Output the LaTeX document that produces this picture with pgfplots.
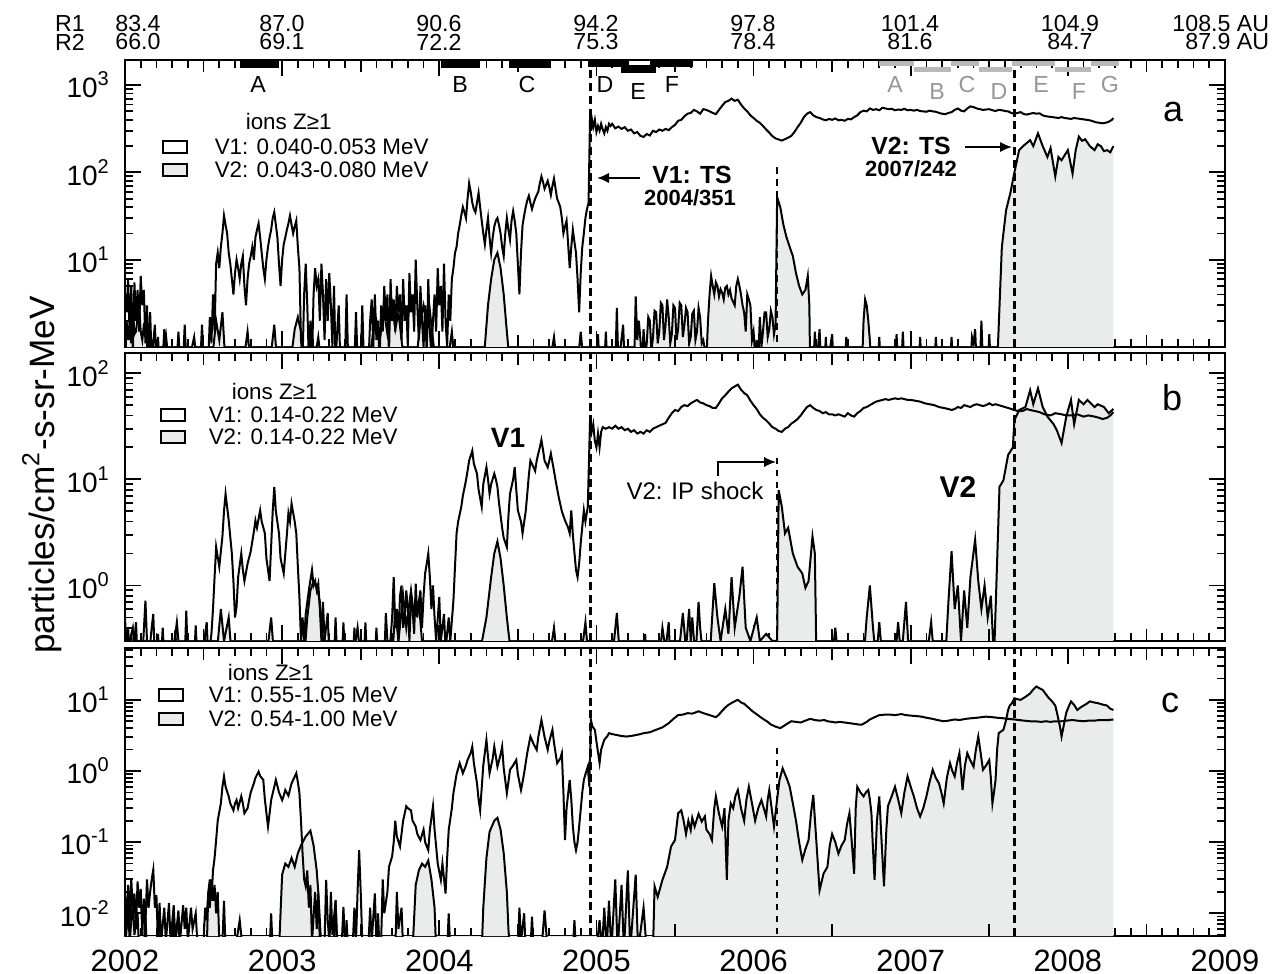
\documentclass[border=0pt]{standalone}
\usepackage{fontspec}
\setmainfont{Liberation Sans}
\usepackage{pgfplots}
\pgfplotsset{compat=1.18}
\usepackage{pgfplotstable}
\usetikzlibrary{arrows.meta}
\newcommand{\fs}[1]{\fontsize{#1pt}{#1pt}\selectfont}
\definecolor{gfill}{RGB}{234,236,236}
\definecolor{gbar}{RGB}{185,185,185}
\definecolor{glab}{RGB}{150,150,150}
\tikzset{
  dline/.style={black, line width=0.5pt},
  tsline/.style={black, line width=0.8pt, dash pattern=on 2pt off 1.2pt},
  ipline/.style={black, line width=0.4pt, dash pattern=on 1.6pt off 1.4pt},
}

% ---------------- panel a ----------------
\pgfplotstableread{
x y
2002.00 4
2002.01 2.5
2002.02 6
2002.03 1.2
2002.04 5
2002.05 0.8
2002.06 5.5
2002.07 2
2002.08 4.5
2002.09 1.5
2002.10 6.5
2002.11 3
2002.12 4.5
2002.13 1.1
2002.14 3
2002.15 0.7
2002.16 2.5
2002.17 0.7
2002.19 1.8
2002.20 0.7
2002.24 0.7
2002.25 1.6
2002.26 0.7
2002.33 0.7
2002.34 1.5
2002.35 0.7
2002.37 0.7
2002.38 1.8
2002.39 0.7
2002.48 0.7
2002.49 1.8
2002.50 0.7
2002.53 0.7
2002.54 2.2
2002.55 1.1
2002.56 4
2002.57 1.5
2002.58 9
2002.59 12
2002.60 8
2002.61 14
2002.62 20
2002.63 32
2002.64 25
2002.65 20
2002.66 12
2002.67 9
2002.68 6
2002.69 4
2002.70 7
2002.71 10
2002.72 8
2002.73 6
2002.74 9
2002.75 11
2002.76 5
2002.77 3
2002.78 6
2002.79 9
2002.80 11
2002.81 14
2002.82 10
2002.83 18
2002.84 22
2002.85 26
2002.86 18
2002.87 12
2002.88 8
2002.89 6
2002.90 10
2002.91 14
2002.92 18
2002.93 22
2002.94 30
2002.95 35
2002.96 25
2002.97 18
2002.98 9
2002.99 5
2003.00 10
2003.01 15
2003.02 18
2003.03 22
2003.04 26
2003.05 32
2003.06 25
2003.07 20
2003.08 24
2003.09 28
2003.10 14
2003.11 8
2003.12 1.2
2003.13 0.7
2003.14 4
2003.15 9
2003.16 3
2003.17 0.7
2003.18 2
2003.19 0.7
2003.20 4
2003.21 8
2003.22 5
2003.23 6
2003.24 2
2003.25 9
2003.26 4
2003.27 1.2
2003.28 6
2003.29 2
2003.30 7
2003.31 3
2003.32 1
2003.33 5
2003.34 0.7
2003.36 3
2003.37 0.7
2003.40 0.7
2003.41 4
2003.42 0.7
2003.46 0.7
2003.47 2.5
2003.48 0.7
2003.50 0.7
2003.51 3
2003.52 0.7
2003.55 0.7
2003.56 2
2003.57 3.5
2003.58 1
2003.59 4
2003.60 1.2
2003.61 2
2003.62 0.7
2003.63 3
2003.64 1.5
2003.65 5
2003.66 2
2003.67 4
2003.68 0.8
2003.69 6
2003.70 2
2003.71 3.5
2003.72 1.5
2003.73 5
2003.74 2.5
2003.75 4
2003.76 1.2
2003.77 6
2003.78 2
2003.79 3
2003.80 1
2003.81 7
2003.82 2.5
2003.83 4
2003.84 1.5
2003.85 10
2003.86 3
2003.87 1.2
2003.88 5
2003.89 2
2003.90 1
2003.91 3
2003.92 0.8
2003.93 6
2003.94 1.5
2003.95 0.8
2003.96 2
2003.97 4
2003.98 1.5
2003.99 8
2004.00 3
2004.01 5
2004.02 1.5
2004.03 9
2004.04 2
2004.05 1
2004.06 4
2004.07 2
2004.08 6
2004.09 8
2004.10 12
2004.11 14
2004.12 20
2004.13 25
2004.14 32
2004.15 40
2004.16 35
2004.17 30
2004.18 50
2004.19 75
2004.20 60
2004.21 45
2004.22 38
2004.23 35
2004.24 45
2004.25 58
2004.26 40
2004.27 28
2004.28 20
2004.29 15
2004.30 22
2004.31 30
2004.32 18
2004.33 12
2004.34 18
2004.35 24
2004.36 28
2004.37 30
2004.38 25
2004.39 20
2004.40 14
2004.41 11
2004.42 20
2004.43 30
2004.44 22
2004.45 17
2004.46 28
2004.47 36
2004.48 28
2004.49 20
2004.50 9
2004.51 4
2004.52 12
2004.53 25
2004.54 32
2004.55 40
2004.56 48
2004.57 54
2004.58 45
2004.59 38
2004.60 44
2004.61 50
2004.62 55
2004.63 60
2004.64 75
2004.65 90
2004.66 78
2004.67 65
2004.68 72
2004.69 80
2004.70 68
2004.71 55
2004.72 70
2004.73 85
2004.74 65
2004.75 50
2004.76 45
2004.77 40
2004.78 30
2004.79 20
2004.80 24
2004.81 28
2004.82 15
2004.83 8
2004.84 14
2004.85 22
2004.86 16
2004.87 12
2004.88 6
2004.89 2.5
2004.90 7
2004.91 14
2004.92 20
2004.93 30
2004.94 38
2004.95 45
2004.96 500
2004.965 300
2004.97 420
2004.98 330
2004.99 400
2005.00 290
2005.01 340
2005.02 300
2005.03 360
2005.04 310
2005.05 280
2005.06 330
2005.07 300
2005.08 360
2005.09 340
2005.10 360
2005.12 320
2005.14 335
2005.16 315
2005.18 330
2005.20 300
2005.22 310
2005.24 280
2005.26 290
2005.28 262
2005.30 255
2005.32 275
2005.34 265
2005.36 300
2005.38 290
2005.40 310
2005.42 300
2005.44 315
2005.46 305
2005.48 330
2005.50 350
2005.52 390
2005.54 400
2005.56 440
2005.58 470
2005.60 480
2005.62 520
2005.64 500
2005.66 470
2005.68 530
2005.70 520
2005.72 500
2005.74 480
2005.76 465
2005.78 520
2005.80 580
2005.82 640
2005.84 660
2005.86 700
2005.88 660
2005.90 680
2005.92 600
2005.94 540
2005.96 500
2005.98 450
2006.00 420
2006.02 390
2006.04 370
2006.06 340
2006.08 310
2006.10 285
2006.12 260
2006.14 245
2006.16 238
2006.18 232
2006.20 240
2006.22 250
2006.24 262
2006.26 290
2006.28 330
2006.30 370
2006.32 430
2006.34 470
2006.36 490
2006.38 450
2006.40 430
2006.42 420
2006.44 405
2006.46 395
2006.48 410
2006.50 400
2006.52 415
2006.54 395
2006.56 400
2006.58 390
2006.60 410
2006.62 405
2006.64 430
2006.66 450
2006.68 490
2006.70 510
2006.72 500
2006.74 540
2006.76 520
2006.78 530
2006.80 515
2006.82 550
2006.84 540
2006.86 530
2006.88 535
2006.90 515
2006.92 525
2006.94 520
2006.96 535
2006.98 515
2007.00 520
2007.02 510
2007.04 520
2007.06 505
2007.08 500
2007.10 495
2007.12 510
2007.14 500
2007.16 495
2007.18 480
2007.20 470
2007.22 465
2007.24 480
2007.26 490
2007.28 520
2007.30 540
2007.32 510
2007.34 500
2007.36 540
2007.38 570
2007.40 560
2007.42 540
2007.44 530
2007.46 520
2007.48 525
2007.50 530
2007.52 515
2007.54 505
2007.56 520
2007.58 515
2007.60 505
2007.62 500
2007.64 480
2007.66 470
2007.68 480
2007.70 490
2007.72 465
2007.74 460
2007.76 470
2007.78 480
2007.80 470
2007.82 475
2007.84 450
2007.86 440
2007.88 435
2007.90 430
2007.92 425
2007.94 420
2007.96 430
2007.98 420
2008.00 415
2008.02 410
2008.04 420
2008.06 415
2008.08 410
2008.10 405
2008.12 400
2008.14 395
2008.16 385
2008.18 375
2008.20 370
2008.22 365
2008.24 370
2008.26 380
2008.28 400
2008.29 420
}\Vaone

\pgfplotstableread{
x y
2002.00 0.5
2002.01 2
2002.02 1.2
2002.03 1.8
2002.04 1.1
2002.05 2.5
2002.06 1.4
2002.07 1.5
2002.08 2.2
2002.09 3
2002.10 1.5
2002.11 1.2
2002.12 1.8
2002.13 2
2002.14 1.1
2002.15 0.6
2002.20 0.6
2002.21 1.3
2002.22 0.6
2002.26 1.4
2002.28 0.6
2002.40 0.6
2002.44 1.3
2002.46 0.6
2002.55 0.6
2002.58 2
2002.60 1.2
2002.62 2.5
2002.64 0.6
2002.75 0.6
2002.78 1.5
2002.80 0.6
2002.92 0.6
2002.95 1.8
2002.97 0.6
2003.05 0.6
2003.08 1.6
2003.10 2.2
2003.12 1.5
2003.14 0.6
2003.20 0.6
2003.23 1.3
2003.25 0.6
2003.55 0.6
2003.58 1.5
2003.60 2
2003.62 1.2
2003.65 2.5
2003.67 1.4
2003.70 3
2003.72 1.6
2003.74 2.5
2003.76 1.2
2003.78 0.6
2003.85 0.6
2003.88 2
2003.90 3
2003.92 1.8
2003.94 2.6
2003.96 1.2
2003.98 0.6
2004.05 0.6
2004.08 1.5
2004.10 0.6
2004.28 0.6
2004.31 3
2004.33 6
2004.35 10
2004.37 12
2004.39 8
2004.41 4
2004.43 1.5
2004.45 0.6
2004.70 0.6
2004.73 1.3
2004.75 0.6
2004.88 0.6
2004.90 1.5
2004.92 0.6
2005.00 0.6
2005.01 1.4
2005.02 0.6
2005.05 0.6
2005.06 1.5
2005.07 0.6
2005.12 0.6
2005.13 2.8
2005.14 0.6
2005.17 1.8
2005.18 0.6
2005.24 0.6
2005.25 3.8
2005.26 1.2
2005.27 2
2005.28 1.2
2005.29 0.6
2005.30 1.6
2005.31 0.8
2005.32 1.1
2005.33 2.2
2005.34 2
2005.35 0.9
2005.36 1.3
2005.37 2.6
2005.38 2.5
2005.39 1.1
2005.40 1.5
2005.41 3.2
2005.42 3
2005.43 1.2
2005.44 1.8
2005.45 3.5
2005.46 2.2
2005.47 1.1
2005.48 1.4
2005.49 3
2005.50 2.8
2005.51 1.2
2005.52 1.6
2005.53 3.2
2005.54 3
2005.55 1.3
2005.56 1.8
2005.57 2.8
2005.58 2.5
2005.59 1.1
2005.60 1.3
2005.61 2.4
2005.62 2.6
2005.63 1.2
2005.64 1.5
2005.65 2.8
2005.66 2.2
2005.67 1.1
2005.68 1.2
2005.70 0.7
2005.71 2
2005.72 4
2005.73 6.5
2005.74 5
2005.75 4
2005.76 5.5
2005.77 5
2005.78 3.8
2005.79 4.6
2005.80 4.2
2005.81 3.5
2005.82 4.8
2005.83 5
2005.84 4
2005.85 4.5
2005.86 3.6
2005.88 3
2005.89 5
2005.90 6
2005.91 5
2005.92 4
2005.93 3
2005.94 2.5
2005.95 1.5
2005.96 4
2005.97 3.5
2005.98 3
2005.99 1.2
2006.00 1.5
2006.01 0.8
2006.02 1.2
2006.03 0.7
2006.04 2.2
2006.05 1
2006.06 1.5
2006.07 2.5
2006.08 2.5
2006.09 1.3
2006.10 1.6
2006.11 2.6
2006.12 2.2
2006.13 1.4
2006.14 1.8
2006.15 52
2006.17 40
2006.19 25
2006.21 18
2006.23 14
2006.25 11
2006.27 7
2006.29 5
2006.31 4
2006.33 4.5
2006.345 6.5
2006.355 3
2006.36 0.6
2006.38 0.6
2006.39 1.5
2006.40 0.6
2006.42 1.6
2006.43 0.6
2006.45 0.6
2006.46 1.3
2006.47 0.6
2006.50 1.4
2006.51 0.6
2006.58 0.6
2006.59 1.3
2006.60 0.6
2006.69 0.6
2006.70 2
2006.71 3.5
2006.72 3
2006.73 2
2006.74 1.2
2006.75 0.6
2006.79 0.6
2006.80 1.3
2006.81 0.6
2006.90 0.6
2006.91 1.4
2006.92 0.6
2006.94 0.6
2006.95 1.5
2006.96 0.6
2007.05 0.6
2007.06 1.3
2007.07 0.6
2007.15 0.6
2007.16 1.3
2007.17 0.6
2007.25 0.6
2007.26 1.3
2007.27 0.6
2007.38 0.6
2007.39 1.3
2007.40 1.1
2007.41 1.6
2007.42 0.6
2007.44 0.6
2007.45 2
2007.46 0.6
2007.49 0.6
2007.50 1.4
2007.51 0.6
2007.55 0.6
2007.58 14
2007.607 37
2007.634 58
2007.66 100
2007.69 180
2007.715 200
2007.76 234
2007.78 200
2007.81 280
2007.84 200
2007.87 150
2007.89 190
2007.92 90
2007.94 150
2007.96 138
2008.00 180
2008.03 97
2008.05 180
2008.07 257
2008.09 230
2008.11 240
2008.14 200
2008.17 180
2008.19 210
2008.21 200
2008.23 175
2008.25 180
2008.27 170
2008.29 200
}\Vatwo

% ---------------- panel b ----------------
\pgfplotstableread{
x y
2002.00 0.5
2002.01 0.25
2002.02 0.4
2002.03 0.2
2002.04 0.35
2002.05 0.2
2002.07 0.45
2002.08 0.2
2002.10 0.3
2002.11 0.2
2002.13 0.72
2002.14 0.3
2002.15 0.2
2002.17 0.4
2002.18 0.54
2002.19 0.2
2002.23 0.2
2002.24 0.4
2002.25 0.2
2002.31 0.2
2002.32 0.38
2002.33 0.2
2002.38 0.2
2002.39 0.58
2002.40 0.2
2002.44 0.2
2002.45 0.42
2002.46 0.2
2002.50 0.2
2002.51 0.35
2002.52 0.45
2002.53 0.2
2002.55 0.35
2002.56 0.6
2002.57 1.2
2002.58 2.3
2002.60 1.5
2002.62 2.9
2002.63 5
2002.64 7.3
2002.65 5.5
2002.66 4.1
2002.68 2
2002.69 1.1
2002.70 0.5
2002.71 0.63
2002.72 1.2
2002.74 2.0
2002.75 1.4
2002.76 1.1
2002.78 1.6
2002.80 2.1
2002.82 3.2
2002.83 4.1
2002.84 3.5
2002.86 5.1
2002.87 4
2002.89 3.1
2002.90 1.8
2002.92 1.1
2002.94 5
2002.95 8.5
2002.96 5
2002.98 3.1
2002.99 1.8
2003.01 1.3
2003.03 3
2003.04 4.8
2003.05 4
2003.06 5.9
2003.08 4
2003.09 3.1
2003.10 1.5
2003.11 0.78
2003.12 0.3
2003.13 0.5
2003.14 0.3
2003.15 0.54
2003.17 0.9
2003.19 1.4
2003.20 1.0
2003.21 1.1
2003.22 0.9
2003.23 1.04
2003.24 0.6
2003.25 0.3
2003.26 0.7
2003.27 0.3
2003.29 0.55
2003.30 0.2
2003.33 0.2
2003.34 0.5
2003.35 0.2
2003.38 0.2
2003.39 0.45
2003.40 0.2
2003.45 0.2
2003.46 0.4
2003.47 0.2
2003.52 0.2
2003.53 0.45
2003.54 0.2
2003.59 0.2
2003.60 0.4
2003.61 0.2
2003.65 0.2
2003.66 0.55
2003.67 0.3
2003.68 0.2
2003.70 0.5
2003.71 1.2
2003.72 0.4
2003.73 0.6
2003.74 0.3
2003.75 0.8
2003.76 1.0
2003.77 0.4
2003.78 0.5
2003.79 0.9
2003.80 0.6
2003.81 0.3
2003.82 0.8
2003.83 0.6
2003.84 0.35
2003.85 1.04
2003.86 0.5
2003.87 0.7
2003.88 0.9
2003.89 0.4
2003.90 0.8
2003.91 1.3
2003.92 1.6
2003.93 2.0
2003.94 1.2
2003.95 0.6
2003.96 1.0
2003.97 0.5
2003.98 0.3
2004.00 0.78
2004.01 0.3
2004.03 0.54
2004.04 0.25
2004.06 0.5
2004.07 0.3
2004.09 0.72
2004.10 1.5
2004.11 3.1
2004.12 4
2004.14 5.5
2004.15 7
2004.17 9.8
2004.18 12
2004.19 15
2004.21 18.6
2004.22 14
2004.24 11.3
2004.25 8
2004.27 5.5
2004.28 9
2004.30 13
2004.31 10
2004.32 7.3
2004.33 9
2004.35 11.3
2004.36 10
2004.37 8.5
2004.38 6
2004.40 3.5
2004.41 2.8
2004.43 2.3
2004.44 4.5
2004.45 7.3
2004.47 10
2004.48 13
2004.49 8
2004.50 5.1
2004.52 4
2004.53 3.1
2004.55 5
2004.56 7.3
2004.57 11
2004.58 15
2004.60 13
2004.61 12
2004.62 15
2004.63 17.5
2004.64 20
2004.65 23.5
2004.66 19
2004.67 15
2004.69 13
2004.70 15
2004.71 17.5
2004.73 12
2004.74 9.8
2004.76 6.8
2004.78 5
2004.80 4.1
2004.82 3.5
2004.83 3.1
2004.84 5.1
2004.85 3
2004.87 1.4
2004.88 1.2
2004.89 1.6
2004.90 2.5
2004.92 5.1
2004.93 4
2004.945 5.5
2004.96 39
2004.97 28
2004.98 33
2004.99 23
2005.00 20
2005.01 27
2005.02 20
2005.03 28
2005.04 31
2005.06 30
2005.08 31
2005.10 30
2005.12 32
2005.14 30
2005.16 31
2005.18 29
2005.20 30
2005.22 28
2005.24 29
2005.26 27
2005.28 28
2005.30 27
2005.32 29
2005.34 28
2005.36 30
2005.38 31
2005.40 32
2005.42 33
2005.44 34
2005.46 38
2005.48 42
2005.50 45
2005.52 44
2005.54 48
2005.56 50
2005.58 49
2005.60 52
2005.62 54
2005.64 56
2005.66 53
2005.68 52
2005.70 50
2005.72 49
2005.74 47
2005.76 47
2005.78 52
2005.80 58
2005.82 62
2005.84 67
2005.86 72
2005.88 75
2005.90 78
2005.92 70
2005.94 65
2005.96 62
2005.98 55
2006.00 50
2006.02 46
2006.04 41
2006.06 38
2006.08 36
2006.10 33.5
2006.12 31
2006.14 30
2006.16 28.5
2006.18 28
2006.20 30
2006.22 31
2006.24 33.5
2006.26 35
2006.28 37
2006.30 40
2006.32 44
2006.34 48
2006.36 50
2006.38 47
2006.40 45
2006.42 44
2006.44 42
2006.46 43
2006.48 41
2006.50 41
2006.52 40
2006.54 41
2006.56 40
2006.58 39
2006.60 42
2006.62 40
2006.64 39
2006.66 42
2006.68 44
2006.70 47
2006.72 48
2006.74 50
2006.76 52
2006.78 54
2006.80 55
2006.82 56
2006.84 57
2006.86 56
2006.88 57
2006.90 58
2006.92 57
2006.94 58
2006.96 57
2006.98 56
2007.00 56
2007.03 55
2007.06 54
2007.09 52
2007.12 51
2007.15 50
2007.18 48
2007.21 47
2007.24 46
2007.26 45
2007.28 46
2007.30 48
2007.32 47
2007.34 50
2007.36 49
2007.38 48
2007.40 50
2007.42 51
2007.44 50
2007.46 49
2007.48 50
2007.50 52
2007.52 50
2007.54 51
2007.56 50
2007.58 49
2007.60 48
2007.62 47
2007.64 46
2007.66 45
2007.68 44
2007.71 44
2007.74 46
2007.76 45
2007.79 44
2007.82 43
2007.85 41
2007.89 40
2007.92 42
2007.96 41
2007.99 40
2008.03 40
2008.06 41
2008.10 39
2008.13 40
2008.17 39
2008.20 38
2008.22 37
2008.25 38
2008.27 40
2008.29 43
}\Vbone

\pgfplotstableread{
x y
2002.00 0.2
2002.05 0.4
2002.07 0.2
2002.20 0.2
2002.21 0.35
2002.22 0.2
2002.30 0.2
2002.33 0.45
2002.35 0.2
2002.58 0.2
2002.61 0.6
2002.63 0.3
2002.66 0.5
2002.68 0.2
2002.90 0.2
2002.93 0.5
2002.95 0.2
2003.14 0.2
2003.16 0.5
2003.18 0.9
2003.20 1.1
2003.22 1.0
2003.24 0.7
2003.26 0.3
2003.27 0.2
2003.45 0.2
2003.48 0.4
2003.50 0.2
2003.70 0.2
2003.72 0.6
2003.74 0.3
2003.77 0.8
2003.79 0.4
2003.82 0.9
2003.84 0.5
2003.87 0.7
2003.89 0.3
2003.92 0.2
2004.25 0.2
2004.30 0.5
2004.33 1.2
2004.35 2.0
2004.37 2.6
2004.39 1.8
2004.41 1.0
2004.43 0.5
2004.46 0.2
2004.70 0.2
2004.73 0.4
2004.75 0.2
2004.90 0.2
2004.93 0.45
2004.95 0.2
2005.10 0.2
2005.13 0.55
2005.15 0.2
2005.30 0.2
2005.31 0.35
2005.32 0.2
2005.40 0.2
2005.42 0.4
2005.44 0.25
2005.46 0.45
2005.47 0.2
2005.52 0.2
2005.55 0.55
2005.57 0.25
2005.59 0.6
2005.60 0.3
2005.61 0.5
2005.63 0.2
2005.65 0.7
2005.66 0.4
2005.68 0.2
2005.72 0.2
2005.75 1.05
2005.77 0.5
2005.79 0.3
2005.82 0.6
2005.84 0.35
2005.86 1.2
2005.88 0.4
2005.91 0.8
2005.93 1.5
2005.95 0.4
2005.98 0.3
2006.02 0.5
2006.04 0.3
2006.08 0.35
2006.12 0.3
2006.15 0.3
2006.16 7.9
2006.18 5.5
2006.20 3.1
2006.22 3.5
2006.25 2.0
2006.28 1.5
2006.31 1.3
2006.33 0.95
2006.35 1.1
2006.375 2.9
2006.39 2.0
2006.40 0.2
2006.50 0.2
2006.52 0.4
2006.54 0.2
2006.70 0.2
2006.72 0.5
2006.74 1.0
2006.76 0.4
2006.78 0.2
2006.80 0.45
2006.82 0.2
2006.90 0.2
2006.92 0.45
2006.94 0.2
2006.97 0.7
2006.99 0.2
2007.10 0.2
2007.13 0.45
2007.15 0.2
2007.22 0.2
2007.24 0.7
2007.26 2.1
2007.28 0.6
2007.30 1.0
2007.32 0.3
2007.34 0.9
2007.36 0.4
2007.38 1.2
2007.41 2.7
2007.43 1.1
2007.45 0.6
2007.47 1.0
2007.49 0.5
2007.51 0.8
2007.53 0.2
2007.565 8.5
2007.59 9.8
2007.62 17
2007.65 20
2007.66 36
2007.69 45
2007.73 48
2007.76 69
2007.78 51
2007.81 72
2007.84 48
2007.87 39
2007.91 33
2007.93 29
2007.96 22
2007.99 39
2008.02 56
2008.04 33
2008.07 56
2008.10 51
2008.125 56
2008.17 48
2008.19 51
2008.23 48
2008.26 42
2008.29 46
}\Vbtwo

% ---------------- panel c ----------------
\pgfplotstableread{
x y
2002.00 0.02
2002.01 0.006
2002.02 0.025
2002.03 0.008
2002.04 0.031
2002.05 0.01
2002.06 0.019
2002.07 0.006
2002.08 0.028
2002.09 0.012
2002.10 0.022
2002.11 0.005
2002.12 0.016
2002.13 0.007
2002.14 0.03
2002.15 0.012
2002.16 0.02
2002.17 0.03
2002.18 0.041
2002.19 0.012
2002.20 0.018
2002.21 0.004
2002.22 0.014
2002.23 0.004
2002.25 0.012
2002.26 0.004
2002.28 0.014
2002.29 0.004
2002.31 0.013
2002.32 0.004
2002.34 0.011
2002.35 0.004
2002.37 0.013
2002.38 0.006
2002.39 0.012
2002.40 0.004
2002.42 0.012
2002.43 0.006
2002.45 0.01
2002.46 0.004
2002.50 0.004
2002.51 0.012
2002.52 0.008
2002.53 0.02
2002.54 0.03
2002.55 0.015
2002.56 0.04
2002.57 0.06
2002.58 0.107
2002.59 0.2
2002.61 0.35
2002.62 0.6
2002.63 0.84
2002.64 0.6
2002.66 0.44
2002.67 0.35
2002.69 0.28
2002.70 0.35
2002.71 0.39
2002.72 0.3
2002.74 0.44
2002.75 0.35
2002.76 0.255
2002.78 0.3
2002.79 0.39
2002.80 0.5
2002.82 0.67
2002.83 0.8
2002.85 0.98
2002.86 0.85
2002.88 0.75
2002.89 0.4
2002.91 0.166
2002.92 0.25
2002.93 0.39
2002.95 0.6
2002.96 0.75
2002.98 0.5
2003.00 0.39
2003.01 0.45
2003.02 0.54
2003.04 0.45
2003.06 0.67
2003.07 0.75
2003.09 0.93
2003.10 0.7
2003.11 0.49
2003.12 0.2
2003.13 0.069
2003.14 0.03
2003.15 0.024
2003.16 0.04
2003.17 0.012
2003.18 0.025
2003.19 0.004
2003.21 0.02
2003.22 0.006
2003.23 0.019
2003.24 0.004
2003.27 0.004
2003.28 0.0295
2003.29 0.008
2003.30 0.004
2003.33 0.004
2003.34 0.0154
2003.35 0.004
2003.38 0.004
2003.39 0.0123
2003.40 0.004
2003.45 0.004
2003.46 0.012
2003.47 0.004
2003.48 0.02
2003.49 0.077
2003.50 0.02
2003.51 0.004
2003.55 0.004
2003.56 0.012
2003.57 0.004
2003.59 0.019
2003.60 0.004
2003.63 0.004
2003.64 0.03
2003.65 0.01
2003.67 0.02
2003.68 0.045
2003.70 0.063
2003.71 0.1
2003.72 0.20
2003.73 0.12
2003.75 0.087
2003.77 0.2
2003.79 0.32
2003.80 0.3
2003.82 0.28
2003.83 0.2
2003.85 0.166
2003.86 0.13
2003.88 0.107
2003.90 0.15
2003.91 0.1
2003.93 0.077
2003.94 0.15
2003.96 0.32
2003.97 0.15
2003.98 0.087
2003.99 0.05
2004.01 0.0295
2004.02 0.05
2004.04 0.019
2004.05 0.06
2004.06 0.148
2004.08 0.3
2004.09 0.49
2004.11 0.9
2004.13 1.29
2004.14 1.1
2004.15 0.93
2004.17 1.2
2004.18 1.43
2004.20 1.8
2004.21 2.2
2004.22 1.3
2004.24 0.67
2004.25 0.4
2004.26 0.28
2004.28 1.2
2004.30 2.74
2004.31 1.6
2004.32 0.93
2004.34 1.5
2004.35 2.2
2004.36 1.6
2004.37 1.15
2004.39 1.7
2004.40 2.2
2004.41 1.1
2004.43 0.49
2004.44 0.7
2004.45 1.04
2004.47 1.2
2004.49 1.43
2004.50 0.9
2004.52 0.54
2004.53 0.7
2004.54 0.93
2004.56 1.8
2004.58 3.05
2004.60 2.4
2004.62 1.98
2004.63 3
2004.65 5.2
2004.67 3
2004.69 1.98
2004.70 2.6
2004.72 3.8
2004.73 2.5
2004.75 1.29
2004.77 1.5
2004.78 1.78
2004.79 0.5
2004.80 0.107
2004.81 0.3
2004.83 0.75
2004.84 0.4
2004.85 0.166
2004.86 0.1
2004.87 0.077
2004.88 0.1
2004.89 0.166
2004.91 0.5
2004.92 0.75
2004.93 0.9
2004.945 1.15
2004.955 0.6
2004.965 5.2
2004.975 4.2
2004.99 3.8
2005.00 2.6
2005.02 1.3
2005.03 2
2005.05 2.74
2005.07 3.1
2005.08 3.4
2005.10 3.3
2005.13 3.2
2005.16 3.1
2005.19 3.05
2005.22 3.1
2005.25 3.2
2005.28 3.3
2005.30 3.4
2005.34 3.5
2005.38 3.8
2005.42 4.1
2005.46 4.7
2005.49 5.4
2005.52 6.1
2005.55 6.2
2005.58 6.5
2005.61 6.4
2005.65 6.9
2005.68 6.5
2005.70 6.3
2005.73 6
2005.76 5.7
2005.78 6.2
2005.80 7
2005.82 7.8
2005.84 8.5
2005.87 9.3
2005.90 10
2005.92 9.2
2005.94 8.8
2005.97 7.7
2005.99 7
2006.01 6.5
2006.04 5.8
2006.06 5.4
2006.09 4.9
2006.11 4.5
2006.14 4.2
2006.17 4.0
2006.20 4.4
2006.22 4.7
2006.24 5.0
2006.27 4.9
2006.30 4.8
2006.33 5.1
2006.36 5.4
2006.39 5.2
2006.42 5.1
2006.45 5.2
2006.47 5.0
2006.50 4.9
2006.52 4.8
2006.55 4.9
2006.58 4.8
2006.61 4.7
2006.64 4.6
2006.67 4.5
2006.69 4.5
2006.72 4.9
2006.74 5.3
2006.77 5.7
2006.80 6.1
2006.84 6.2
2006.87 6.2
2006.90 6.1
2006.94 6.3
2006.97 6.1
2007.00 6.0
2007.04 5.9
2007.07 5.8
2007.10 5.6
2007.14 5.4
2007.17 5.2
2007.21 5.0
2007.24 5.1
2007.28 5.3
2007.31 5.2
2007.35 5.4
2007.38 5.5
2007.42 5.6
2007.45 5.7
2007.48 5.8
2007.52 5.7
2007.55 5.6
2007.59 5.5
2007.62 5.4
2007.66 5.3
2007.69 5.2
2007.72 5.1
2007.76 5.0
2007.79 5.0
2007.83 4.9
2007.86 5.0
2007.89 4.9
2007.92 5.0
2007.96 5.0
2007.99 5.1
2008.03 5.2
2008.06 5.1
2008.10 5.0
2008.13 5.1
2008.17 5.1
2008.20 5.2
2008.23 5.2
2008.26 5.2
2008.29 5.3
}\Vcone

\pgfplotstableread{
x y
2002.00 0.003
2002.02 0.012
2002.03 0.004
2002.05 0.015
2002.06 0.005
2002.08 0.01
2002.09 0.003
2002.12 0.003
2002.13 0.009
2002.14 0.003
2002.20 0.003
2002.21 0.008
2002.22 0.003
2002.30 0.003
2002.31 0.01
2002.32 0.004
2002.34 0.009
2002.35 0.003
2002.52 0.003
2002.53 0.02
2002.54 0.012
2002.55 0.03
2002.56 0.015
2002.57 0.025
2002.58 0.01
2002.59 0.02
2002.60 0.004
2002.62 0.004
2002.63 0.015
2002.64 0.003
2002.70 0.003
2002.73 0.008
2002.75 0.003
2002.92 0.003
2002.93 0.01
2002.94 0.003
2002.98 0.003
2003.00 0.035
2003.02 0.05
2003.04 0.045
2003.06 0.06
2003.08 0.045
2003.10 0.07
2003.12 0.09
2003.15 0.12
2003.18 0.145
2003.20 0.09
2003.22 0.04
2003.23 0.02
2003.24 0.008
2003.25 0.003
2003.30 0.003
2003.31 0.02
2003.32 0.005
2003.34 0.015
2003.35 0.003
2003.40 0.003
2003.41 0.008
2003.42 0.003
2003.60 0.003
2003.61 0.01
2003.62 0.003
2003.72 0.003
2003.73 0.02
2003.74 0.006
2003.76 0.012
2003.77 0.003
2003.83 0.003
2003.85 0.025
2003.87 0.04
2003.89 0.05
2003.91 0.045
2003.93 0.055
2003.95 0.03
2003.97 0.012
2003.98 0.003
2004.05 0.003
2004.06 0.01
2004.07 0.003
2004.27 0.003
2004.28 0.012
2004.30 0.06
2004.32 0.14
2004.35 0.2
2004.37 0.22
2004.39 0.15
2004.41 0.07
2004.43 0.02
2004.44 0.006
2004.45 0.003
2004.50 0.003
2004.51 0.012
2004.52 0.004
2004.54 0.01
2004.55 0.003
2004.58 0.003
2004.59 0.009
2004.60 0.003
2004.65 0.003
2004.67 0.011
2004.69 0.003
2004.85 0.003
2004.86 0.008
2004.87 0.003
2005.00 0.003
2005.02 0.008
2005.035 0.003
2005.05 0.012
2005.065 0.003
2005.08 0.015
2005.095 0.003
2005.12 0.03
2005.135 0.003
2005.16 0.025
2005.175 0.003
2005.20 0.04
2005.215 0.003
2005.25 0.035
2005.265 0.003
2005.30 0.012
2005.32 0.003
2005.36 0.003
2005.37 0.024
2005.39 0.017
2005.42 0.0295
2005.45 0.045
2005.475 0.087
2005.50 0.107
2005.52 0.255
2005.54 0.28
2005.555 0.2
2005.57 0.13
2005.585 0.2
2005.60 0.148
2005.61 0.22
2005.625 0.166
2005.65 0.25
2005.67 0.195
2005.69 0.23
2005.70 0.15
2005.72 0.13
2005.735 0.107
2005.75 0.3
2005.76 0.44
2005.78 0.25
2005.80 0.166
2005.815 0.3
2005.83 0.0295
2005.84 0.2
2005.855 0.35
2005.87 0.3
2005.885 0.45
2005.90 0.54
2005.92 0.3
2005.94 0.2
2005.955 0.4
2005.97 0.6
2005.99 0.35
2006.01 0.2
2006.03 0.3
2006.05 0.39
2006.065 0.3
2006.08 0.23
2006.09 0.4
2006.10 0.54
2006.115 0.3
2006.13 0.166
2006.15 0.4
2006.165 0.75
2006.185 1.09
2006.20 0.9
2006.21 0.8
2006.23 0.6
2006.25 0.35
2006.27 0.2
2006.29 0.1
2006.31 0.056
2006.33 0.08
2006.35 0.107
2006.365 0.25
2006.38 0.46
2006.40 0.1
2006.42 0.021
2006.445 0.036
2006.47 0.045
2006.485 0.09
2006.50 0.13
2006.52 0.1
2006.54 0.069
2006.56 0.09
2006.58 0.107
2006.595 0.18
2006.61 0.255
2006.625 0.1
2006.64 0.036
2006.65 0.3
2006.66 0.6
2006.68 0.5
2006.70 0.44
2006.715 0.5
2006.73 0.54
2006.74 0.4
2006.75 0.255
2006.76 0.08
2006.77 0.0295
2006.785 0.2
2006.80 0.44
2006.815 0.1
2006.83 0.024
2006.845 0.15
2006.855 0.32
2006.88 0.45
2006.90 0.6
2006.92 0.4
2006.94 0.255
2006.96 0.5
2006.98 0.84
2007.00 0.6
2007.02 0.44
2007.04 0.3
2007.06 0.23
2007.08 0.3
2007.10 0.44
2007.12 0.7
2007.14 1.04
2007.16 0.8
2007.18 0.67
2007.195 0.5
2007.21 0.35
2007.23 0.8
2007.25 1.29
2007.265 1.0
2007.28 0.84
2007.295 1.3
2007.31 1.78
2007.32 1.0
2007.33 0.54
2007.345 1.2
2007.36 1.78
2007.38 1.4
2007.40 1.15
2007.415 2
2007.43 3.05
2007.445 1.8
2007.46 1.04
2007.48 1.2
2007.50 1.43
2007.51 0.8
2007.52 0.35
2007.53 0.5
2007.54 0.75
2007.55 2
2007.56 3.4
2007.575 3.6
2007.59 3.8
2007.605 5
2007.62 7.2
2007.63 8.3
2007.645 9
2007.66 10.5
2007.68 10.2
2007.70 10
2007.73 11
2007.76 12.3
2007.78 14
2007.80 15.4
2007.82 14.5
2007.84 13.8
2007.86 12
2007.88 10.5
2007.90 9.5
2007.92 8.3
2007.935 6
2007.95 4.2
2007.96 3.05
2007.975 4.5
2007.99 6.6
2008.005 8
2008.02 9.5
2008.04 8.5
2008.06 7.2
2008.08 7.8
2008.10 8.3
2008.12 8.8
2008.14 9.5
2008.165 9.2
2008.19 9.0
2008.22 8.6
2008.25 8.3
2008.27 7.5
2008.29 7.2
}\Vctwo

\begin{document}
\begin{tikzpicture}
\useasboundingbox (-31.25pt,-9.5pt) rectangle (287.25pt,234pt);

% panel a
\begin{axis}[at={(0pt,147.25pt)}, anchor=south west,
  scale only axis, width=275pt, height=71.75pt,
  xmin=2002, xmax=2009, ymode=log, log origin y=infty,
  xtick={2002,2003,2004,2005,2006,2007,2008,2009}, minor x tick num=9,
  xticklabels={},
  major tick length=4pt, minor tick length=2pt, tick align=inside,
  axis line style={line width=0.6pt}, tick style={line width=0.45pt, black},
  yticklabel style={font=\fs{7}},
  ymin=1, ymax=1940,
  ytick={10,100,1000},
  yticklabels={10\textsuperscript{1},10\textsuperscript{2},10\textsuperscript{3}},
  minor ytick={2,3,4,5,6,7,8,9,20,30,40,50,60,70,80,90,200,300,400,500,600,700,800,900}]
\addplot[draw=none, fill=gfill] table {\Vatwo} \closedcycle;
\addplot[dline] table {\Vaone};
\addplot[dline] table {\Vatwo};
\draw[tsline] (axis cs:2004.96,1) -- (axis cs:2004.96,1940);
\draw[tsline] (axis cs:2007.66,1) -- (axis cs:2007.66,1940);
\draw[ipline] (axis cs:2006.15,115) -- (axis cs:2006.15,1);
\end{axis}

% panel b
\begin{axis}[at={(0pt,73.75pt)}, anchor=south west,
  scale only axis, width=275pt, height=72pt,
  xmin=2002, xmax=2009, ymode=log, log origin y=infty,
  xtick={2002,2003,2004,2005,2006,2007,2008,2009}, minor x tick num=9,
  xticklabels={},
  major tick length=4pt, minor tick length=2pt, tick align=inside,
  axis line style={line width=0.6pt}, tick style={line width=0.45pt, black},
  yticklabel style={font=\fs{7}},
  ymin=0.3, ymax=155,
  ytick={1,10,100},
  yticklabels={10\textsuperscript{0},10\textsuperscript{1},10\textsuperscript{2}},
  minor ytick={0.4,0.5,0.6,0.7,0.8,0.9,2,3,4,5,6,7,8,9,20,30,40,50,60,70,80,90}]
\addplot[draw=none, fill=gfill] table {\Vbtwo} \closedcycle;
\addplot[dline] table {\Vbone};
\addplot[dline] table {\Vbtwo};
\draw[tsline] (axis cs:2004.96,0.3) -- (axis cs:2004.96,155);
\draw[tsline] (axis cs:2007.66,0.3) -- (axis cs:2007.66,155);
\draw[ipline] (axis cs:2006.15,16) -- (axis cs:2006.15,0.3);
\end{axis}

% panel c
\begin{axis}[at={(0pt,0pt)}, anchor=south west,
  scale only axis, width=275pt, height=72pt,
  xmin=2002, xmax=2009, ymode=log, log origin y=infty,
  xtick={2002,2003,2004,2005,2006,2007,2008,2009}, minor x tick num=9,
  xticklabels={2002,2003,2004,2005,2006,2007,2008,2009},
  xticklabel style={font=\fs{7.7}},
  major tick length=4pt, minor tick length=2pt, tick align=inside,
  axis line style={line width=0.6pt}, tick style={line width=0.45pt, black},
  yticklabel style={font=\fs{7}},
  ymin=0.0048, ymax=53.5,
  ytick={0.01,0.1,1,10},
  yticklabels={10\textsuperscript{-2},10\textsuperscript{-1},10\textsuperscript{0},10\textsuperscript{1}},
  minor ytick={0.005,0.006,0.007,0.008,0.009,0.02,0.03,0.04,0.05,0.06,0.07,0.08,0.09,0.2,0.3,0.4,0.5,0.6,0.7,0.8,0.9,2,3,4,5,6,7,8,9,20,30,40,50}]
\addplot[draw=none, fill=gfill] table {\Vctwo} \closedcycle;
\addplot[dline] table {\Vcone};
\addplot[dline] table {\Vctwo};
\draw[tsline] (axis cs:2004.96,0.0048) -- (axis cs:2004.96,53.5);
\draw[tsline] (axis cs:2007.66,0.0048) -- (axis cs:2007.66,53.5);
\draw[ipline] (axis cs:2006.15,2.1) -- (axis cs:2006.15,0.0048);
\end{axis}

% annotations in pixel units of the reference
\begin{scope}[shift={(-31.25pt,234pt)}, x=0.25pt, y=-0.25pt]
  % half-year ticks (medium length)
  \foreach \h in {0,...,6} {
    \pgfmathsetmacro{\xx}{125+(\h+0.5)*157.14}
    \foreach \yt/\yb in {60/347,353/641,648/936} {
      \draw[line width=0.45pt] (\xx,\yt) -- ++(0,12);
      \draw[line width=0.45pt] (\xx,\yb) -- ++(0,-12);
    }
  }
  % y label
  \node[rotate=90, font=\fs{8.8}] at (42,475) {particles/cm\textsuperscript{2}-s-sr-MeV};
  % distance rows
  \begin{scope}[every node/.style={font=\fs{5.8}, inner sep=0pt}]
    \node at (70,23.5) {R1};
    \node at (138,23.5) {83.4};
    \node at (282,23.5) {87.0};
    \node at (439,23.5) {90.6};
    \node at (596,23.5) {94.2};
    \node at (753,23.5) {97.8};
    \node at (910,23.5) {101.4};
    \node at (1070,23.5) {104.9};
    \node[anchor=east] at (1270,23.5) {108.5 AU};
    \node at (70,42) {R2};
    \node at (138,42) {66.0};
    \node at (282,42) {69.1};
    \node at (439,42) {72.2};
    \node at (596,42) {75.3};
    \node at (753,42) {78.4};
    \node at (910,42) {81.6};
    \node at (1070,42) {84.7};
    \node[anchor=east] at (1270,42) {87.9 AU};
  \end{scope}
  % V1 periods (black bars)
  \fill[black] (240,60) rectangle (279,68);
  \fill[black] (441,60) rectangle (480,68);
  \fill[black] (509,60) rectangle (551,68);
  \fill[black] (588,60) rectangle (628,67);
  \fill[black] (651,60) rectangle (693,67);
  \fill[black] (621,66) rectangle (656,73);
  \draw[black, fill=white, line width=0.4pt] (628,60.5) rectangle (651,66);
  \begin{scope}[every node/.style={font=\fs{5.8}, inner sep=0pt}]
    \node at (258,85) {A};
    \node at (460,85) {B};
    \node at (527,85) {C};
    \node at (605,85) {D};
    \node at (638,92) {E};
    \node at (672,85) {F};
  \end{scope}
  % V2 periods (gray bars)
  \fill[gbar] (879,61) rectangle (914,66);
  \fill[gbar] (914,67) rectangle (951,72);
  \fill[gbar] (951,61) rectangle (979,66);
  \fill[gbar] (979,67) rectangle (1012,72);
  \fill[gbar] (1012,61) rectangle (1055,66);
  \fill[gbar] (1055,67) rectangle (1091,72);
  \fill[gbar] (1091,61) rectangle (1119,66);
  \begin{scope}[every node/.style={font=\fs{5.8}, inner sep=0pt, text=glab}]
    \node at (895,85) {A};
    \node at (937,92) {B};
    \node at (967,85) {C};
    \node at (999,92) {D};
    \node at (1041,85) {E};
    \node at (1079,92) {F};
    \node at (1110,85) {G};
  \end{scope}
  % panel letters
  \node[font=\fs{9}] at (1173,112) {a};
  \node[font=\fs{9}] at (1172,398) {b};
  \node[font=\fs{9}] at (1170,703) {c};
  % legends
  \begin{scope}[every node/.style={font=\fs{5.6}, inner sep=0pt, anchor=west}]
    \node at (245,122) {ions Z≥1};
    \node at (214,147) {V1: 0.040-0.053 MeV};
    \node at (214,170) {V2: 0.043-0.080 MeV};
    \node at (231,392) {ions Z≥1};
    \node at (208,415) {V1: 0.14-0.22 MeV};
    \node at (208,437) {V2: 0.14-0.22 MeV};
    \node at (227,672) {ions Z≥1};
    \node at (208,695) {V1: 0.55-1.05 MeV};
    \node at (208,719) {V2: 0.54-1.00 MeV};
  \end{scope}
  \draw[black, line width=0.4pt, fill=white] (163,141) rectangle (187,153);
  \draw[black, line width=0.4pt, fill=gfill] (163,164) rectangle (187,176);
  \draw[black, line width=0.4pt, fill=white] (161,409) rectangle (185,421);
  \draw[black, line width=0.4pt, fill=gfill] (161,431) rectangle (185,443);
  \draw[black, line width=0.4pt, fill=white] (159,689) rectangle (183,701);
  \draw[black, line width=0.4pt, fill=gfill] (159,713) rectangle (183,725);
  % shock annotations
  \node[font=\bfseries\fs{6.2}] at (692,175) {V1: TS};
  \node[font=\bfseries\fs{5.5}] at (690,198) {2004/351};
  \draw[line width=0.5pt, -{Latex[length=3pt,width=2.6pt]}] (640,178) -- (597,178);
  \node[font=\bfseries\fs{6.2}] at (911,146) {V2: TS};
  \node[font=\bfseries\fs{5.5}] at (911,169) {2007/242};
  \draw[line width=0.5pt, -{Latex[length=3pt,width=2.6pt]}] (965,147) -- (1012,147);
  \node[font=\bfseries\fs{7}] at (508,438) {V1};
  \node[font=\bfseries\fs{7.5}] at (958,487) {V2};
  \node[font=\fs{6}] at (695,491) {V2: IP shock};
  \draw[line width=0.45pt, -{Latex[length=3pt,width=2.6pt]}] (718,476) -- (718,462) -- (776,462);
\end{scope}
\end{tikzpicture}
\end{document}
